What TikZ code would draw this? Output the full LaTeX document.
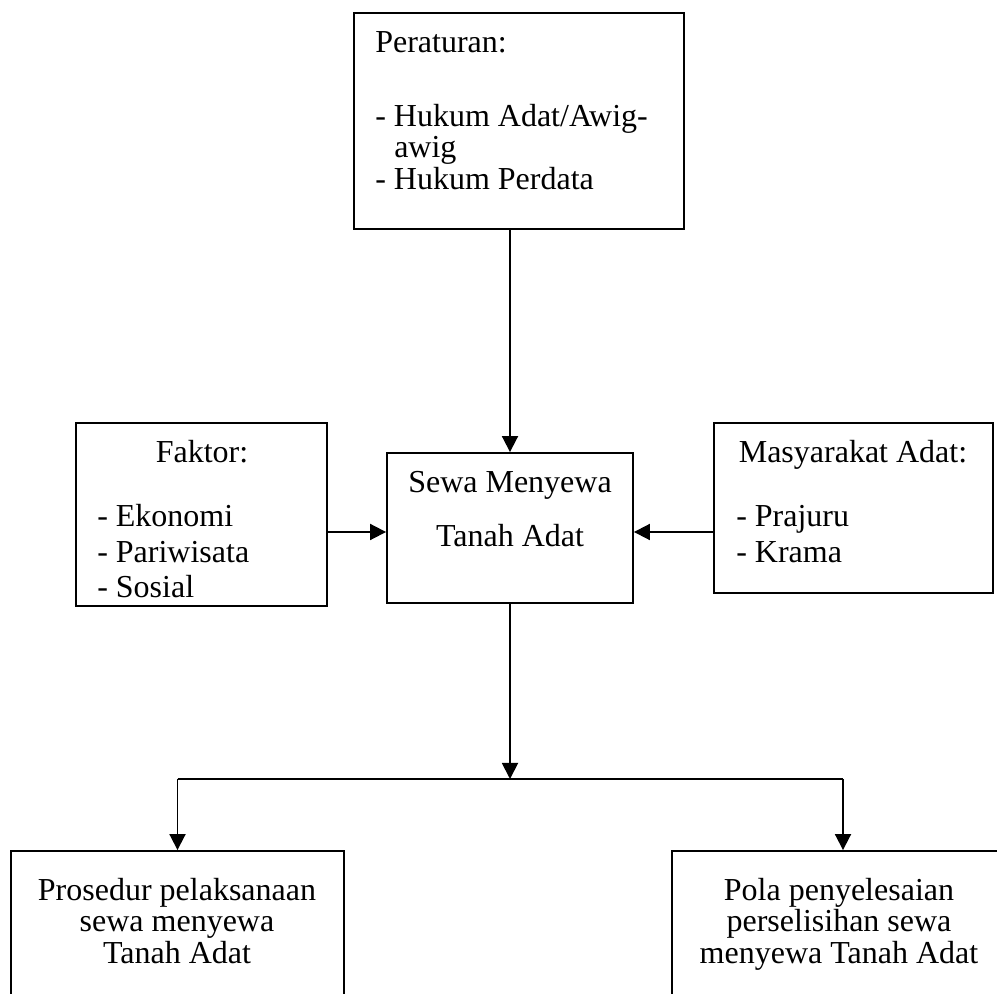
\documentclass[tikz,border=0pt]{standalone}
\usepackage{fontspec}
\setmainfont{Liberation Serif}
\usetikzlibrary{arrows.meta,fit}
\begin{document}
\begin{tikzpicture}[x=0.75pt,y=-0.75pt,
  box/.style={draw,line width=1.4pt,inner sep=0pt},
  conn/.style={line width=1.4pt},
  arr/.style={conn,-{Triangle[length=12pt,width=12pt]}},
  txt/.style={inner sep=0pt,font=\fontsize{24}{28}\selectfont},
  lt/.style={txt,anchor=base west},
  ct/.style={txt,anchor=base}]
\useasboundingbox (0,0) rectangle (997,994);
\clip (0,0) rectangle (997,994);

% boxes
\node[box,fit={(354,13) (684,229)}] (per) {};
\node[box,fit={(76,423) (327,606)}] (fak) {};
\node[box,fit={(714,423) (993,593)}] (mas) {};
\node[box,fit={(387,453) (633,603)}] (sewa) {};
\node[box,fit={(11,851) (344,1020)}] (pros) {};
\node[box,fit={(672,851) (1014,1020)}] (pola) {};

% texts
\node[lt] (t1) at (375,53) {Peraturan:};
\node[lt] (t2) at (375,127) {- Hukum Adat/Awig-};
\node[lt] (t3) at (394,158) {awig};
\node[lt] (t4) at (375,190) {- Hukum Perdata};

\node[ct] (f1) at (202,463) {Faktor:};
\node[lt] (f2) at (97,527) {- Ekonomi};
\node[lt] (f3) at (97,563) {- Pariwisata};
\node[lt] (f4) at (97,598) {- Sosial};

\node[ct] (m1) at (853,463) {Masyarakat Adat:};
\node[lt] (m2) at (736,527) {- Prajuru};
\node[lt] (m3) at (736,563) {- Krama};

\node[ct] (s1) at (510,493) {Sewa Menyewa};
\node[ct] (s2) at (510,547) {Tanah Adat};

\node[ct] (p1) at (177,900) {Prosedur pelaksanaan};
\node[ct] (p2) at (177,931) {sewa menyewa};
\node[ct] (p3) at (177,963) {Tanah Adat};

\node[ct] (q1) at (839,900) {Pola penyelesaian};
\node[ct] (q2) at (839,931) {perselisihan sewa};
\node[ct] (q3) at (839,963) {menyewa Tanah Adat};

% connectors
\coordinate (ay) at (0,532);
\coordinate (br) at (0,779);
\draw[arr] (sewa.north |- per.south) -- (sewa.north);
\draw[arr] (fak.east |- ay) -- (sewa.west |- ay);
\draw[arr] (mas.west |- ay) -- (sewa.east |- ay);
\draw[arr] (sewa.south) -- (sewa.south |- br);
\draw[conn] (pros.north |- br) -- (pola.north |- br);
\draw[arr] (pros.north |- br) -- (pros.north);
\draw[arr] (pola.north |- br) -- (pola.north);
\end{tikzpicture}
\end{document}
